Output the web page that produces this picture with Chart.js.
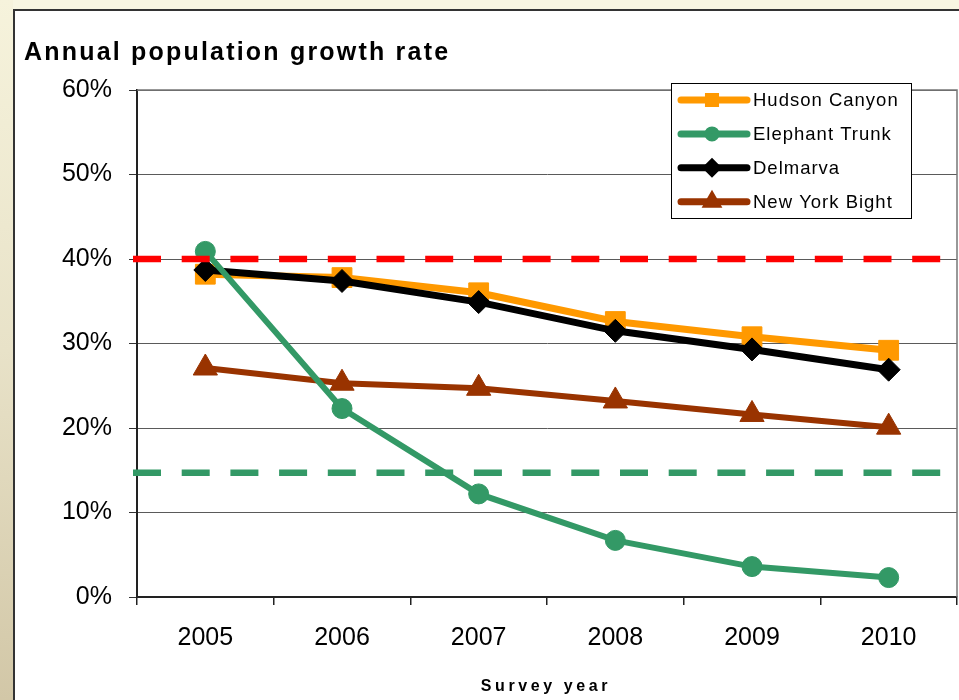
<!DOCTYPE html>
<html>
<head>
<meta charset="utf-8">
<script src="https://cdn.jsdelivr.net/npm/chart.js@4/dist/chart.umd.min.js"></script>
<style>
    html, body { margin: 0; padding: 0; background: #f8f6e2; }
    canvas { display: block; }
</style>
</head>
<body>
<canvas id="growthChart" width="959" height="700"></canvas>
<script>
// Survey data
const years = ['2005', '2006', '2007', '2008', '2009', '2010'];
const hudsonCanyon = [38.2, 37.8, 36.0, 32.6, 30.8, 29.2];
const elephantTrunk = [40.9, 22.3, 12.2, 6.7, 3.6, 2.3];
const delmarva = [38.7, 37.4, 34.9, 31.5, 29.3, 26.9];
const newYorkBight = [27.1, 25.3, 24.7, 23.2, 21.6, 20.1];

// Reference levels (dashed)
const refLevels = [40, 14.7];
const refColors = ['#ff0000', '#339966'];

const yTicks = [0, 10, 20, 30, 40, 50, 60];

const FONT = '"Liberation Sans", Arial, sans-serif';

// Page frame: cream background, tan strip on the left, white panel
const framePlugin = {
    id: 'frame',
    beforeDraw(chart) {
        const ctx = chart.ctx;
        ctx.save();
        ctx.fillStyle = '#f8f6e2';
        ctx.fillRect(0, 0, chart.width, chart.height);
        const g = ctx.createLinearGradient(0, 0, 0, chart.height);
        g.addColorStop(0, '#f6f3dc');
        g.addColorStop(0.5, '#e8e2c8');
        g.addColorStop(1, '#d2c7a7');
        ctx.fillStyle = g;
        ctx.fillRect(0, 0, 13, chart.height);
        ctx.fillStyle = '#ffffff';
        ctx.fillRect(13, 10, chart.width, chart.height);
        ctx.strokeStyle = '#333333';
        ctx.lineWidth = 2;
        ctx.beginPath();
        ctx.moveTo(14, chart.height + 2);
        ctx.lineTo(14, 10);
        ctx.lineTo(chart.width + 2, 10);
        ctx.stroke();

        // Title
        ctx.fillStyle = '#000';
        ctx.font = 'bold 25px ' + FONT;
        ctx.letterSpacing = '2.2px';
        ctx.textBaseline = 'alphabetic';
        ctx.textAlign = 'left';
        ctx.fillText('Annual population growth rate', 24, 60);

        // X axis title
        ctx.font = 'bold 16px ' + FONT;
        ctx.letterSpacing = '3.6px';
        ctx.textAlign = 'center';
        ctx.fillText('Survey year', 546, 691);
        ctx.letterSpacing = '0px';
        ctx.restore();
    },
    beforeDatasetsDraw(chart) {
        // Plot frame (top and right side)
        const a = chart.chartArea;
        const ctx = chart.ctx;
        ctx.save();
        ctx.strokeStyle = '#777';
        ctx.lineWidth = 1.5;
        ctx.beginPath();
        ctx.moveTo(a.left, a.top);
        ctx.lineTo(a.right, a.top);
        ctx.lineTo(a.right, a.bottom);
        ctx.stroke();
        ctx.restore();
    }
};

// Dashed reference lines across the plot
const refLinePlugin = {
    id: 'refLines',
    afterDatasetsDraw(chart) {
        const ctx = chart.ctx;
        const y = chart.scales.y;
        const a = chart.chartArea;
        ctx.save();
        ctx.lineWidth = 6.5;
        ctx.setLineDash([28, 20.7]);
        refLevels.forEach((v, i) => {
            const py = y.getPixelForValue(v);
            ctx.strokeStyle = refColors[i];
            ctx.beginPath();
            ctx.moveTo(a.left - 4, py);
            ctx.lineTo(a.right, py);
            ctx.stroke();
        });
        ctx.restore();
    }
};

// Boxed legend in the top right of the plot
const boxLegendPlugin = {
    id: 'boxLegend',
    afterDraw(chart) {
        const ctx = chart.ctx;
        const box = { x: 671.5, y: 83.5, w: 240, h: 135 };
        ctx.save();
        ctx.fillStyle = '#fff';
        ctx.fillRect(box.x, box.y, box.w, box.h);
        ctx.strokeStyle = '#000';
        ctx.lineWidth = 1;
        ctx.strokeRect(box.x, box.y, box.w, box.h);

        chart.data.datasets.forEach((ds, i) => {
            const cy = 100 + i * 33.9;
            ctx.strokeStyle = ds.borderColor;
            ctx.lineWidth = 7;
            ctx.lineCap = 'round';
            ctx.setLineDash([]);
            ctx.beginPath();
            ctx.moveTo(681, cy);
            ctx.lineTo(747, cy);
            ctx.stroke();
            ctx.fillStyle = ds.borderColor;
            Chart.helpers.drawPoint(ctx, {
                pointStyle: ds.pointStyle,
                radius: ds.legendRadius,
                rotation: 0,
                borderWidth: 1
            }, 712, cy);
            ctx.fillStyle = '#000';
            ctx.font = '18.5px ' + FONT;
            ctx.letterSpacing = '1px';
            ctx.textAlign = 'left';
            ctx.textBaseline = 'middle';
            ctx.fillText(ds.label, 753, cy + 1);
        });
        ctx.letterSpacing = '0px';
        ctx.restore();
    }
};

function series(label, data, color, style, radius, width, legendRadius, order) {
    return {
        label: label,
        data: data,
        borderColor: color,
        backgroundColor: color,
        borderWidth: width,
        pointStyle: style,
        pointRadius: radius,
        pointHoverRadius: radius,
        pointBackgroundColor: color,
        pointBorderColor: color,
        pointBorderWidth: 1,
        legendRadius: legendRadius,
        tension: 0,
        order: order
    };
}

new Chart(document.getElementById('growthChart'), {
    type: 'line',
    data: {
        labels: years,
        datasets: [
            series('Hudson Canyon', hudsonCanyon, '#ff9900', 'rect', 14, 7, 5, 4),
            series('Elephant Trunk', elephantTrunk, '#339966', 'circle', 10, 6, 4, 1),
            series('Delmarva', delmarva, '#000000', 'rectRot', 11.5, 7, 5, 3),
            series('New York Bight', newYorkBight, '#993300', 'triangle', 14, 6, 5, 2)
        ]
    },
    options: {
        responsive: false,
        devicePixelRatio: 1,
        animation: false,
        layout: {
            autoPadding: false,
            padding: { left: 0, right: 2, top: 90, bottom: 0 }
        },
        plugins: {
            legend: { display: false },
            tooltip: { enabled: false },
            title: { display: false }
        },
        scales: {
            x: {
                offset: true,
                grid: {
                    offset: true,
                    drawOnChartArea: false,
                    drawTicks: true,
                    tickLength: 8,
                    color: '#222',
                    lineWidth: 1.5
                },
                border: { color: '#222', width: 2 },
                ticks: {
                    color: '#000',
                    font: { family: FONT, size: 25 },
                    padding: 18,
                    maxRotation: 0
                },
                afterFit(scale) {
                    scale.height = 103;
                    scale.paddingLeft = 0;
                    scale.paddingRight = 0;
                }
            },
            y: {
                min: 0,
                max: 60,
                afterBuildTicks(scale) {
                    scale.ticks = yTicks.map(v => ({ value: v }));
                },
                grid: {
                    color: '#5a5a5a',
                    lineWidth: 1,
                    tickLength: 8,
                    tickColor: '#333'
                },
                border: { color: '#222', width: 2 },
                ticks: {
                    color: '#000',
                    font: { family: FONT, size: 25 },
                    padding: 17,
                    callback: v => v + '%'
                },
                afterFit(scale) { scale.width = 137; }
            }
        }
    },
    plugins: [framePlugin, refLinePlugin, boxLegendPlugin]
});
</script>
</body>
</html>
